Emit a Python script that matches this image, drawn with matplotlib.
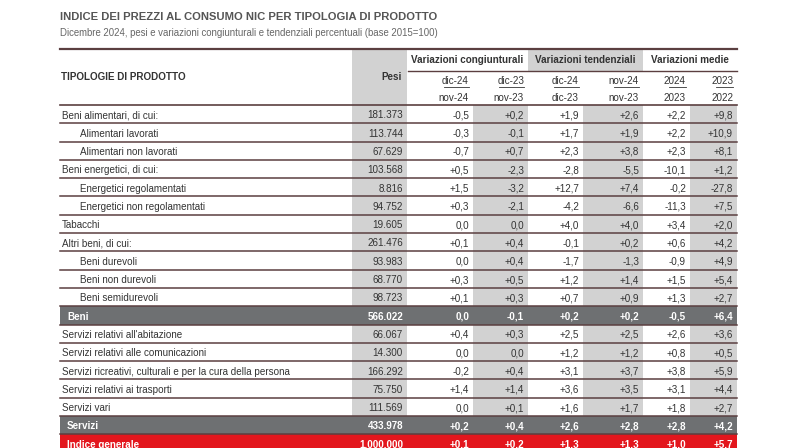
import matplotlib.pyplot as plt
from matplotlib.patches import Rectangle

plt.rcParams['font.family'] = ['Liberation Sans Narrow', 'Liberation Sans', 'DejaVu Sans']

title = 'INDICE DEI PREZZI AL CONSUMO NIC PER TIPOLOGIA DI PRODOTTO'
subtitle = 'Dicembre 2024, pesi e variazioni congiunturali e tendenziali percentuali (base 2015=100)'

groups = ['Variazioni congiunturali', 'Variazioni tendenziali', 'Variazioni medie']
sub_top = ['dic-24', 'dic-23', 'dic-24', 'nov-24', '2024', '2023']
sub_bot = ['nov-24', 'nov-23', 'dic-23', 'nov-23', '2023', '2022']

labels = ['Beni alimentari, di cui:', 'Alimentari lavorati', 'Alimentari non lavorati',
          'Beni energetici, di cui:', 'Energetici regolamentati', 'Energetici non regolamentati',
          'Tabacchi', 'Altri beni, di cui:', 'Beni durevoli', 'Beni non durevoli',
          'Beni semidurevoli', 'Beni', "Servizi relativi all'abitazione",
          'Servizi relativi alle comunicazioni',
          'Servizi ricreativi, culturali e per la cura della persona',
          'Servizi relativi ai trasporti', 'Servizi vari', 'Servizi', 'Indice generale']
# 0 = normal, 1 = indented, 2 = grey total, 3 = red total
kind = [0, 1, 1, 0, 1, 1, 0, 0, 1, 1, 1, 2, 0, 0, 0, 0, 0, 2, 3]
pesi = ['181.373', '113.744', '67.629', '103.568', '8.816', '94.752', '19.605', '261.476',
        '93.983', '68.770', '98.723', '566.022', '66.067', '14.300', '166.292', '75.750',
        '111.569', '433.978', '1.000.000']
cong_dic24 = ['-0,5', '-0,3', '-0,7', '+0,5', '+1,5', '+0,3', '0,0', '+0,1', '0,0', '+0,3',
              '+0,1', '0,0', '+0,4', '0,0', '-0,2', '+1,4', '0,0', '+0,2', '+0,1']
cong_dic23 = ['+0,2', '-0,1', '+0,7', '-2,3', '-3,2', '-2,1', '0,0', '+0,4', '+0,4', '+0,5',
              '+0,3', '-0,1', '+0,3', '0,0', '+0,4', '+1,4', '+0,1', '+0,4', '+0,2']
tend_dic24 = ['+1,9', '+1,7', '+2,3', '-2,8', '+12,7', '-4,2', '+4,0', '-0,1', '-1,7', '+1,2',
              '+0,7', '+0,2', '+2,5', '+1,2', '+3,1', '+3,6', '+1,6', '+2,6', '+1,3']
tend_nov24 = ['+2,6', '+1,9', '+3,8', '-5,5', '+7,4', '-6,6', '+4,0', '+0,2', '-1,3', '+1,4',
              '+0,9', '+0,2', '+2,5', '+1,2', '+3,7', '+3,5', '+1,7', '+2,8', '+1,3']
med_2024 = ['+2,2', '+2,2', '+2,3', '-10,1', '-0,2', '-11,3', '+3,4', '+0,6', '-0,9', '+1,5',
            '+1,3', '-0,5', '+2,6', '+0,8', '+3,8', '+3,1', '+1,8', '+2,8', '+1,0']
med_2023 = ['+9,8', '+10,9', '+8,1', '+1,2', '-27,8', '+7,5', '+2,0', '+4,2', '+4,9', '+5,4',
            '+2,7', '+6,4', '+3,6', '+0,5', '+5,9', '+4,4', '+2,7', '+4,2', '+5,7']
values = [cong_dic24, cong_dic23, tend_dic24, tend_nov24, med_2024, med_2023]

# layout (pixels)
W, H = 795, 448
x0, x1 = 60, 737
pesi_l, pesi_r = 352, 407
col_edges = [407, 473, 528, 583, 643, 690, 737]
row_top, row_h = 105, 18.3
line_c = '#5b3f40'
grey = '#d2d2d2'
text_c = '#333333'
fs = 7.1

fig = plt.figure(figsize=(W / 100, H / 100), dpi=100)
ax = fig.add_axes([0, 0, 1, 1])
ax.set_xlim(0, W)
ax.set_ylim(H, 0)
ax.axis('off')

ax.text(x0, 16.5, title, fontsize=8.1, fontweight='bold', color='#555555', va='center')
ax.text(x0, 33, subtitle, fontsize=6.9, color='#666666', va='center')

# header backgrounds
ax.add_patch(Rectangle((pesi_l, 49), pesi_r - pesi_l, H - 49, color=grey, lw=0))
ax.add_patch(Rectangle((col_edges[2], 49), col_edges[4] - col_edges[2], 22, color=grey, lw=0))

# grey value columns
n = len(labels)
for c in (1, 3, 5):
    ax.add_patch(Rectangle((col_edges[c], row_top), col_edges[c + 1] - col_edges[c],
                           n * row_h, color=grey, lw=0))

ax.plot([x0, x1], [49, 49], color=line_c, lw=1.6)
ax.plot([col_edges[0] + 1, x1], [71, 71], color=line_c, lw=1.0)
ax.plot([x0, x1], [row_top, row_top], color=line_c, lw=1.2)

ax.text(x0 + 1, 77, 'TIPOLOGIE DI PRODOTTO', fontsize=fs, fontweight='bold', color=text_c, va='center')
ax.text(pesi_r - 5, 77, 'Pesi', fontsize=fs, fontweight='bold', color=text_c, va='center', ha='right')
for g, name in enumerate(groups):
    xc = (col_edges[2 * g] + col_edges[2 * g + 2]) / 2
    ax.text(xc, 60, name, fontsize=fs, fontweight='bold', color=text_c, va='center', ha='center')
for c in range(6):
    xr = col_edges[c + 1] - 4
    ax.text(xr, 81.5, sub_top[c], fontsize=fs, color=text_c, va='center', ha='right')
    ax.text(xr, 98, sub_bot[c], fontsize=fs, color=text_c, va='center', ha='right')
    # underline for the top period
    w = len(sub_top[c]) * 4.2
    ax.plot([xr - w, xr], [87.5, 87.5], color=text_c, lw=0.6)

for i, lab in enumerate(labels):
    yt = row_top + i * row_h
    yc = yt + row_h / 2 + 1.2
    k = kind[i]
    tc = text_c
    weight = 'normal'
    if k >= 2:
        ax.add_patch(Rectangle((x0, yt), x1 - x0, row_h,
                               color='#6e7072' if k == 2 else '#e3161d', lw=0, zorder=2))
        tc = 'white'
        weight = 'bold'
    lx = {0: x0 + 2, 1: x0 + 20, 2: x0 + 7, 3: x0 + 7}[k]
    ax.text(lx, yc, lab, fontsize=fs, color=tc, fontweight=weight, va='center', zorder=3)
    ax.text(pesi_r - 4, yc, pesi[i], fontsize=fs, color=tc, fontweight=weight,
            va='center', ha='right', zorder=3)
    for c in range(6):
        ax.text(col_edges[c + 1] - 4, yc, values[c][i], fontsize=fs, color=tc,
                fontweight=weight, va='center', ha='right', zorder=3)
    ax.plot([x0, x1], [yt + row_h, yt + row_h], color=line_c, lw=1.1, zorder=4)

fig.savefig('out.png', dpi=100)
